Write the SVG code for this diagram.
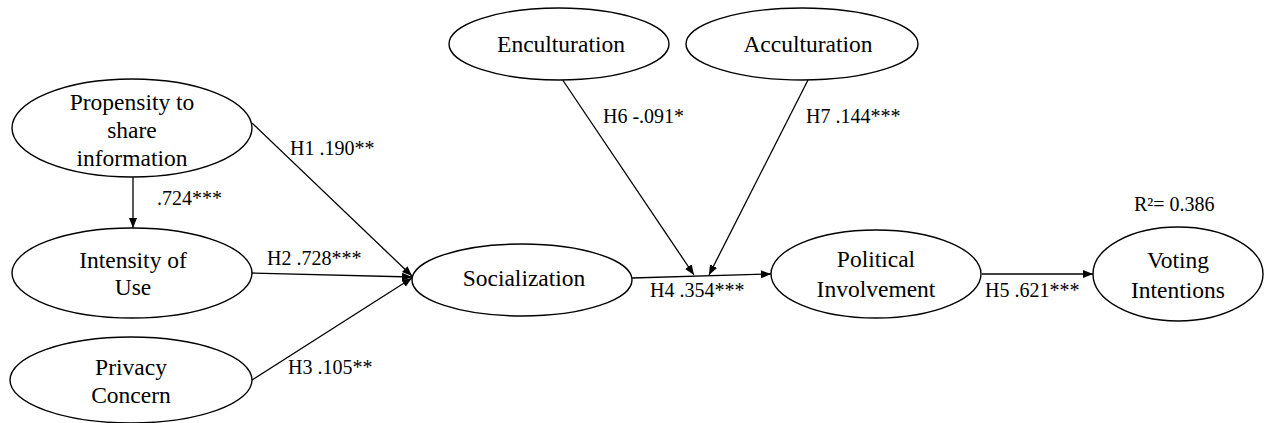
<svg xmlns="http://www.w3.org/2000/svg" width="1264" height="423" viewBox="0 0 1264 423" font-family="Liberation Serif, DejaVu Serif, serif">
  <style>
    .node ellipse { fill: #ffffff; stroke: #000000; stroke-width: 1.4; }
    .node text { font-size: 23.5px; fill: #000000; text-anchor: middle; }
    .conn line { stroke: #000000; stroke-width: 1.3; marker-end: url(#arrow); }
    .lbl { font-size: 20px; fill: #000000; }
  </style>
  <defs>
    <marker id="arrow" markerUnits="userSpaceOnUse" markerWidth="12" markerHeight="10" refX="10" refY="4" orient="auto">
      <path d="M0,0 L10,4 L0,8 Z" fill="#000000"/>
    </marker>
  </defs>
  <rect width="1264" height="423" fill="#ffffff"/>

  <g id="connectors" class="conn">
    <line x1="133" y1="177" x2="133" y2="228"/>
    <line x1="252" y1="123" x2="412" y2="276"/>
    <line x1="252" y1="273" x2="412" y2="277"/>
    <line x1="252" y1="380" x2="412" y2="278"/>
    <line x1="632" y1="278" x2="771" y2="274"/>
    <line x1="562" y1="79" x2="694" y2="275"/>
    <line x1="808" y1="80" x2="709" y2="275"/>
    <line x1="982" y1="274" x2="1093" y2="274"/>
  </g>

  <g id="labels" font-family="Liberation Serif, serif">
    <text class="lbl" x="157" y="205">.724***</text>
    <text class="lbl" x="290" y="155">H1 .190**</text>
    <text class="lbl" x="267" y="265">H2 .728***</text>
    <text class="lbl" x="288" y="374">H3 .105**</text>
    <text class="lbl" x="650" y="297">H4 .354***</text>
    <text class="lbl" x="985" y="297">H5 .621***</text>
    <text class="lbl" x="603" y="123">H6 -.091*</text>
    <text class="lbl" x="806" y="123">H7 .144***</text>
    <text class="lbl" x="1134" y="211">R²= 0.386</text>
  </g>

  <g id="propensity" class="node" font-family="Liberation Serif, serif">
    <ellipse cx="132" cy="128" rx="120" ry="49"/>
    <text x="132" y="110">Propensity to</text>
    <text x="132" y="138">share</text>
    <text x="132" y="166">information</text>
  </g>
  <g id="intensity" class="node" font-family="Liberation Serif, serif">
    <ellipse cx="132" cy="273" rx="120" ry="45"/>
    <text x="133" y="268">Intensity of</text>
    <text x="133" y="295">Use</text>
  </g>
  <g id="privacy" class="node" font-family="Liberation Serif, serif">
    <ellipse cx="131" cy="380" rx="121" ry="43"/>
    <text x="131" y="375">Privacy</text>
    <text x="131" y="403">Concern</text>
  </g>
  <g id="socialization" class="node" font-family="Liberation Serif, serif">
    <ellipse cx="522" cy="280" rx="110" ry="36"/>
    <text x="524" y="286">Socialization</text>
  </g>
  <g id="enculturation" class="node" font-family="Liberation Serif, serif">
    <ellipse cx="559" cy="44" rx="110" ry="36"/>
    <text x="561" y="52">Enculturation</text>
  </g>
  <g id="acculturation" class="node" font-family="Liberation Serif, serif">
    <ellipse cx="802" cy="44" rx="116" ry="36"/>
    <text x="808" y="52">Acculturation</text>
  </g>
  <g id="political" class="node" font-family="Liberation Serif, serif">
    <ellipse cx="876" cy="274" rx="105" ry="44"/>
    <text x="876" y="267">Political</text>
    <text x="876" y="297">Involvement</text>
  </g>
  <g id="voting" class="node" font-family="Liberation Serif, serif">
    <ellipse cx="1178" cy="274" rx="85" ry="47"/>
    <text x="1178" y="268">Voting</text>
    <text x="1178" y="298">Intentions</text>
  </g>
</svg>
